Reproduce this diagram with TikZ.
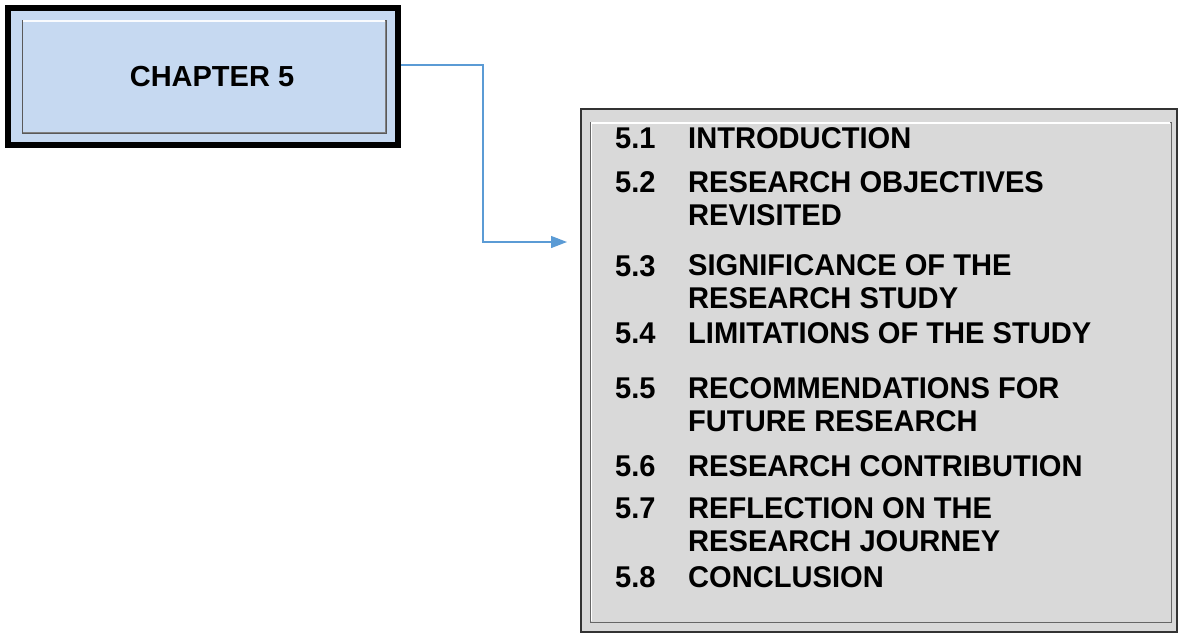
\documentclass[tikz,border=0pt]{standalone}
\usepackage{fontspec}
\setmainfont{Liberation Sans}
\newfontfamily\listfont[FakeStretch=0.97]{Liberation Sans}
\usetikzlibrary{arrows.meta,calc}
\definecolor{chapblue}{HTML}{C6D9F1}
\definecolor{listgray}{HTML}{D9D9D9}
\definecolor{linkblue}{HTML}{5B9BD5}
\tikzset{
  item/.style={anchor=base west,inner sep=0pt,font=\listfont\fontsize{30}{33}\selectfont\bfseries,align=left},
  link/.style={draw=linkblue,line width=1.3pt,-{Triangle[length=16pt,width=12pt]}},
}
\begin{document}
\begin{tikzpicture}[x=1pt,y=-1pt]
\useasboundingbox (0,0) rectangle (1178,633);
% chapter box
\node[draw=black,line width=5.5pt,fill=chapblue,minimum width=390pt,minimum height=137pt,inner sep=0pt] (chap) at (203,76.5) {};
\draw[gray!70!black,line width=1pt] (22,20) rectangle (386,133);
\draw[white!90!chapblue,line width=1.2pt] (23,21) -- (385,21);
\draw[gray,line width=1pt] (23,132) -- (385,132) -- (385,21);
\node[inner sep=0pt,font=\fontsize{29}{33}\selectfont\bfseries] (chaptxt) at (212,77) {CHAPTER 5};
% list box
\node[draw=black!80,line width=2pt,fill=listgray,minimum width=596pt,minimum height=523pt,inner sep=0pt] (list) at (879,370.5) {};
\draw[gray!80!black,line width=1pt] (590,122) rectangle (1171,622);
\draw[white,line width=1.2pt] (591,123) -- (1170,123);
\draw[white,line width=1pt] (591,123) -- (591,621);
% items
\node[item] (n1) at (615,148.5) {5.1};
\node[item] (t1) at (688,148.5) {INTRODUCTION};
\node[item] (n2) at (615,192.5) {5.2};
\node[item] (t2) at (688,225.5) {RESEARCH OBJECTIVES\\REVISITED};
\node[item] (n3) at (615,276.5) {5.3};
\node[item] (t3) at (688,308.5) {SIGNIFICANCE OF THE\\RESEARCH STUDY};
\node[item] (n4) at (615,343.5) {5.4};
\node[item] (t4) at (688,343.5) {LIMITATIONS OF THE STUDY};
\node[item] (n5) at (615,398.5) {5.5};
\node[item] (t5) at (688,431.5) {RECOMMENDATIONS FOR\\FUTURE RESEARCH};
\node[item] (n6) at (615,476.5) {5.6};
\node[item] (t6) at (688,476.5) {RESEARCH CONTRIBUTION};
\node[item] (n7) at (615,518.5) {5.7};
\node[item] (t7) at (688,551.5) {REFLECTION ON THE\\RESEARCH JOURNEY};
\node[item] (n8) at (615,587.5) {5.8};
\node[item] (t8) at (688,587.5) {CONCLUSION};
% connector
\coordinate (turn) at (483,65);
\coordinate (endy) at (0,242);
\draw[link,shorten >=13pt] (chap.east |- turn) -- (turn) |- (list.west |- endy);
\end{tikzpicture}
\end{document}
